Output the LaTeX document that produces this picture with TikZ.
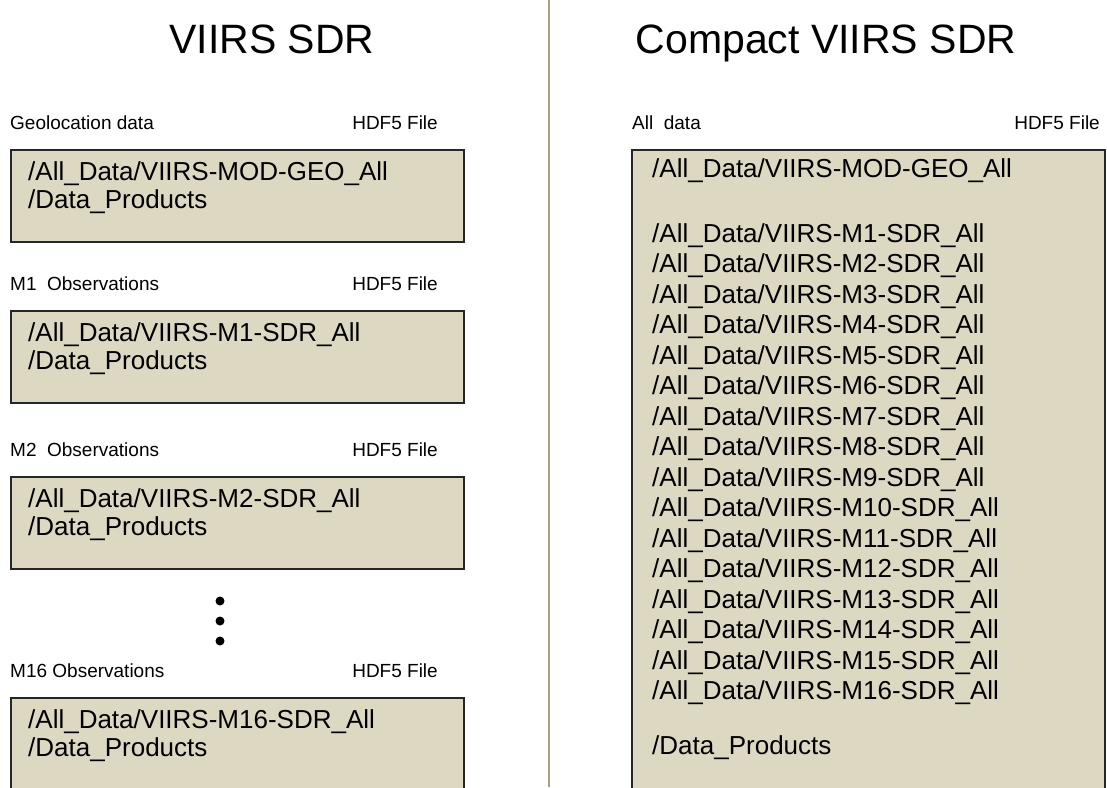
\documentclass[tikz,border=0pt]{standalone}
\usepackage{fontspec}
\setmainfont{Liberation Sans}
\definecolor{areafill}{HTML}{DDD8C2}
\definecolor{rulecol}{HTML}{A8A37B}
\tikzstyle{area} = [rectangle,draw=black!85,line width=1.5pt,fill=areafill,anchor=north west,inner sep=0pt]
\tikzstyle{title} = [font=\fontsize{41}{41}\selectfont,anchor=base,inner sep=0pt]
\tikzstyle{tag} = [font=\fontsize{19}{19}\selectfont,inner sep=0pt]
\tikzstyle{entry} = [font=\fontsize{26}{26}\selectfont,inner sep=0pt,anchor=base west]

\begin{document}
\begin{tikzpicture}[x=1pt,y=-1pt]
    \useasboundingbox (0,0) rectangle (1107,787);
    \clip (0,0) rectangle (1107,787);
    % divider
    \coordinate (top) at (549,0);
    \coordinate (bot) at (549,787);
    \draw[rulecol,line width=2pt] (top) -- (bot);
    % left column: one file per band
    \node[title] (T1) at (272,53) {VIIRS SDR};
    \foreach \i/\lab/\prod/\y in {0/Geolocation data/MOD-GEO/149,1/M1\ \ Observations/M1-SDR/310,2/M2\ \ Observations/M2-SDR/476,3/M16 Observations/M16-SDR/697}
    {
        \node[area,minimum width=453pt,minimum height=92pt] (B\i) at (10,\y) {};
        \node[tag,anchor=base west] (N\i) at (10,\y-20) {\lab};
        \node[tag,anchor=base east] (F\i) at (438,\y-20) {HDF5 File};
        \node[entry] (P\i) at ([shift={(18,31)}]B\i.north west) {/All\_Data/VIIRS-\prod\_All};
        \node[entry] (D\i) at ([shift={(18,59)}]B\i.north west) {/Data\_Products};
    }
    \foreach \d in {601,621,641}
    {\fill (220,\d) circle (4.5pt);}
    % right column: one compact file
    \node[title] (T2) at (826,53) {Compact VIIRS SDR};
    \node[tag,anchor=base west] (N4) at (632,129) {All\ \ data};
    \node[tag,anchor=base east] (F4) at (1100,129) {HDF5 File};
    \node[area,minimum width=473pt,minimum height=660pt] (C) at (631,149) {};
    \node[entry] (G) at ([shift={(21,28)}]C.north west) {/All\_Data/VIIRS-MOD-GEO\_All};
    \foreach \m in {1,...,16}
    {\node[entry] (S\m) at ([shift={(21,{93+(\m-1)*30.5})}]C.north west) {/All\_Data/VIIRS-M\m-SDR\_All};}
    \node[entry] (E) at ([shift={(21,605)}]C.north west) {/Data\_Products};
\end{tikzpicture}
\end{document}
